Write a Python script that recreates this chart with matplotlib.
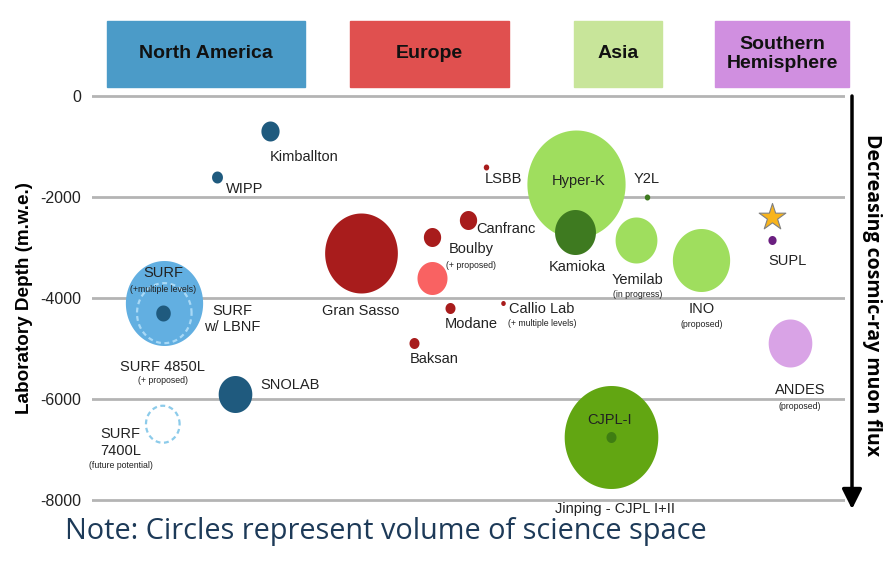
import numpy as np
import matplotlib
matplotlib.use("Agg")
import matplotlib.pyplot as plt
from matplotlib.path import Path
from matplotlib.patches import Rectangle
from matplotlib.transforms import offset_copy

plt.rcParams['font.family'] = ['Liberation Sans', 'DejaVu Sans']

# ---- data ----
regions = ["North America", "Europe", "Asia", "Southern\nHemisphere"]

sites = ["SURF (+multiple levels)", "SURF w/ LBNF", "SURF 4850L", "SURF 7400L",
         "Kimballton", "WIPP", "SNOLAB",
         "Gran Sasso", "Boulby", "Boulby (+ proposed)", "Canfranc", "LSBB",
         "Modane", "Callio Lab", "Baksan",
         "Hyper-K", "Kamioka", "Y2L", "Yemilab", "INO", "Jinping - CJPL I+II", "CJPL-I",
         "SUPL", "ANDES"]
x_pos = [9.5, 9.6, 9.4, 9.4,
         23.6, 16.6, 19.0,
         35.7, 45.2, 45.2, 49.9, 52.3,
         47.5, 54.6, 42.8,
         64.3, 64.1, 73.7, 72.2, 80.9, 68.9, 68.9,
         90.3, 92.7]
depth = [-4100, -4300, -4300, -6500,
         -700, -1600, -5900,
         -3100, -2800, -3600, -2450, -1400,
         -4200, -4100, -4900,
         -1750, -2700, -2000, -2850, -3250, -6750, -6750,
         -2850, -4900]
# apparent bubble diameter (volume of science space)
volume = [85, 60, 16, 37,
          20, 12, 37,
          80, 19, 33, 19, 6,
          11, 5, 11,
          108, 45, 6, 46, 63, 103, 11,
          9, 48]
yticks = [0, -2000, -4000, -6000, -8000]

# ---- styles ----
NA_D, NA_L, NA_DASH = "#1f5a7e", "#62afe1", "#a9d9f6"
EU_D, EU_L = "#a81c1c", "#f96262"
AS_L, AS_D, AS_M = "#9fde5e", "#3e7a20", "#62a612"
style = {
    "SURF (+multiple levels)": (NA_L, None),
    "SURF w/ LBNF": (None, NA_DASH),
    "SURF 4850L": (NA_D, None),
    "SURF 7400L": (None, "#8ccbea"),
    "Kimballton": (NA_D, None), "WIPP": (NA_D, None), "SNOLAB": (NA_D, None),
    "Gran Sasso": (EU_D, None), "Boulby": (EU_D, None), "Boulby (+ proposed)": (EU_L, None),
    "Canfranc": (EU_D, None), "LSBB": (EU_D, None), "Modane": (EU_D, None),
    "Callio Lab": (EU_D, None), "Baksan": (EU_D, None),
    "Hyper-K": (AS_L, None), "Kamioka": (AS_D, None), "Y2L": (AS_D, None),
    "Yemilab": (AS_L, None), "INO": (AS_L, None),
    "Jinping - CJPL I+II": (AS_M, None), "CJPL-I": ("#3f7d12", None),
    "SUPL": ("#6b1f80", None), "ANDES": ("#d9a3e6", None),
}
box_colors = ["#4b9bc8", "#e0504f", "#c8e59a", "#d08fe0"]
box_px = [(107, 305), (350, 509), (574, 662), (715, 849)]

# label text, anchor site, offset in px (x right, y up), ha, size
labels = [
    ("Kimballton", "Kimballton", 0, -26, "left", 10.5),
    ("WIPP", "WIPP", 9, -12, "left", 10.5),
    ("SURF", "SURF (+multiple levels)", 0, 30, "center", 10.5),
    ("(+multiple levels)", "SURF (+multiple levels)", 0, 14, "center", 6.3),
    ("SURF\nw/ LBNF", "SURF (+multiple levels)", 69, -16, "center", 10.5),
    ("SURF 4850L", "SURF 4850L", 0, -54, "center", 10.5),
    ("(+ proposed)", "SURF 4850L", 0, -67, "center", 6.3),
    ("SNOLAB", "SNOLAB", 25, 9, "left", 10.5),
    ("SURF\n7400L", "SURF 7400L", -42, -18, "center", 10.5),
    ("(future potential)", "SURF 7400L", -42, -41, "center", 6.3),
    ("LSBB", "LSBB", -1, -12, "left", 10.5),
    ("Canfranc", "Canfranc", 9, -9, "left", 10.5),
    ("Boulby", "Boulby", 39, -12, "center", 10.5),
    ("(+ proposed)", "Boulby", 39, -28, "center", 6.3),
    ("Gran Sasso", "Gran Sasso", 0, -58, "center", 10.5),
    ("Modane", "Modane", 22, -16, "center", 10.5),
    ("Callio Lab", "Callio Lab", 6, -6, "left", 10.5),
    ("(+ multiple levels)", "Callio Lab", 5, -20, "left", 6.3),
    ("Baksan", "Baksan", 20, -16, "center", 10.5),
    ("Hyper-K", "Hyper-K", 2, 3, "center", 10.5),
    ("Kamioka", "Kamioka", 3, -35, "center", 10.5),
    ("Y2L", "Y2L", 0, 18, "center", 10.5),
    ("Yemilab", "Yemilab", 2, -40, "center", 10.5),
    ("(in progress)", "Yemilab", 2, -55, "center", 6.3),
    ("INO", "INO", 1, -49, "center", 10.5),
    ("(proposed)", "INO", 1, -64, "center", 6.3),
    ("CJPL-I", "CJPL-I", -1, 17, "center", 10.5),
    ("Jinping - CJPL I+II", "Jinping - CJPL I+II", 4, -72, "center", 10.5),
    ("SUPL", "SUPL", 16, -21, "center", 10.5),
    ("ANDES", "ANDES", 10, -47, "center", 10.5),
    ("(proposed)", "ANDES", 10, -63, "center", 6.3),
]

W, H = 896, 583
fig = plt.figure(figsize=(W / 100, H / 100), dpi=100)
ax = fig.add_axes([92 / W, 1 - 515.15 / H, (845 - 92) / W, (515.15 - 80.85) / H])
ax.set_xlim(0, 100)
ax.set_ylim(-8300, 300)
for s in ax.spines.values():
    s.set_visible(False)
ax.set_xticks([])
ax.set_yticks(yticks)
ax.set_yticklabels([str(t) for t in yticks], fontsize=11.5, color="#222222")
ax.tick_params(axis="y", length=0, pad=8)
ax.grid(axis="y", color="#b4b4b4", lw=2)
ax.set_axisbelow(True)
ax.set_ylabel("Laboratory Depth (m.w.e.)", fontsize=13.6, fontweight="bold")
ax.yaxis.set_label_coords(-0.079, 0.5)

# slightly tall ellipse marker (the source picture is stretched vertically)
t = np.linspace(0, 2 * np.pi, 120)
ell = Path(np.column_stack([np.cos(t) / 1.1, np.sin(t)]), closed=True)

for name, xx, yy, d in zip(sites, x_pos, depth, volume):
    face, edge = style[name]
    size = (d * 0.72) ** 2
    if face is not None:
        ax.scatter([xx], [yy], s=size, marker=ell, color=face, linewidths=0, zorder=3)
    else:
        ax.scatter([xx], [yy], s=size, marker=ell, facecolors="none", edgecolors=edge,
                   linewidths=1.6, linestyles=(0, (2.2, 1.6)), zorder=3)

# star above SUPL
i = sites.index("SUPL")
ax.scatter([x_pos[i]], [depth[i]], s=(28 * 0.72) ** 2, marker="*", color="#f8b41c",
           edgecolors="#808080", linewidths=0.8, zorder=4,
           transform=offset_copy(ax.transData, fig=fig, y=23, units="dots"))

for txt, site, dx, dy, ha, fs in labels:
    i = sites.index(site)
    ax.annotate(txt, xy=(x_pos[i], depth[i]), xytext=(dx, dy), textcoords="offset pixels",
                ha=ha, va="center", fontsize=fs, color="#222222", linespacing=1.25, zorder=5)

# region header boxes
for reg, col, (x0, x1) in zip(regions, box_colors, box_px):
    fig.patches.append(Rectangle((x0 / W, 1 - 87 / H), (x1 - x0) / W, 66 / H,
                                 transform=fig.transFigure, color=col, zorder=0))
    fig.text((x0 + x1) / 2 / W, 1 - 54 / H, reg, ha="center", va="center",
             fontsize=14, fontweight="bold", color="#111111", linespacing=1.2)

# depth arrow on the right
ax.annotate("", xy=(1.0093, -8180), xytext=(1.0093, 0),
            xycoords=("axes fraction", "data"),
            arrowprops=dict(arrowstyle="-|>,head_length=0.6,head_width=0.3",
                            mutation_scale=20, lw=2.5, color="black",
                            shrinkA=0, shrinkB=0))
fig.text(872 / W, 1 - 295 / H, "Decreasing cosmic-ray muon flux", rotation=-90,
         ha="center", va="center", fontsize=14, fontweight="bold", family="Open Sans")

fig.text(65 / W, 1 - 532 / H, "Note: Circles represent volume of science space",
         ha="left", va="center", fontsize=20.8, color="#1d3a58", family="Open Sans")

fig.savefig("out.png", dpi=100)
